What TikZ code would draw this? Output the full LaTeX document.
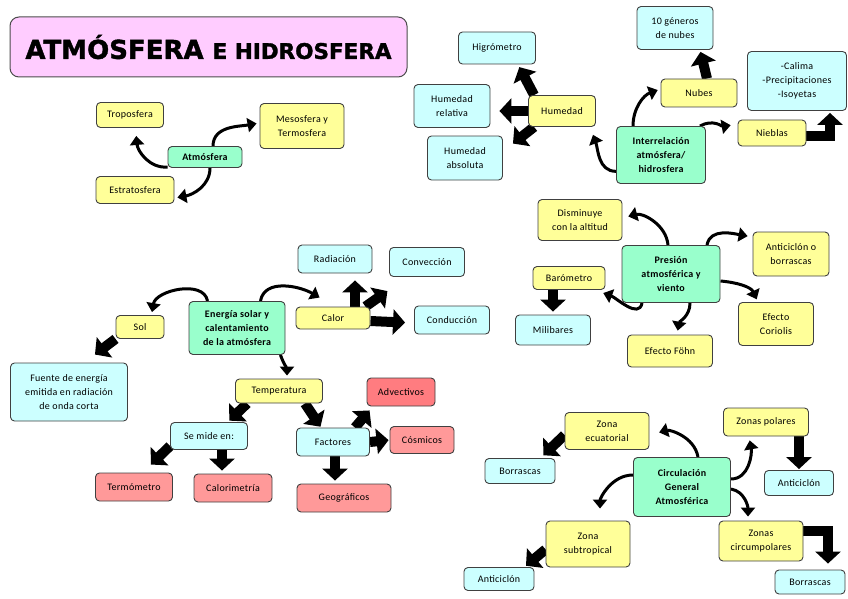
\documentclass[tikz,border=0pt]{standalone}
\usepackage{fontspec}
\setmainfont[LetterSpace=3]{Carlito}
\newfontfamily\titlefont[BoldFeatures={FakeBold=1.5}]{DejaVu Sans}
\usetikzlibrary{arrows.meta,backgrounds}
\definecolor{yel}{HTML}{FFFF99}\definecolor{cya}{HTML}{CCFFFF}\definecolor{grn}{HTML}{99FFCC}
\definecolor{rdl}{HTML}{FF9999}\definecolor{rdd}{HTML}{FF7C80}\definecolor{pnk}{HTML}{FFCCFF}

\begin{document}
\begin{tikzpicture}[x=1pt,y=-1pt,
  bx/.style={draw=black!75,line width=.9pt,rounded corners=4pt,align=center,inner sep=2pt,font=\fontsize{10}{14}\selectfont},
  ybox/.style={bx,fill=yel},cbox/.style={bx,fill=cya},rbox/.style={bx,fill=rdl},
  gbox/.style={bx,fill=grn,font=\fontsize{10}{14}\selectfont\bfseries},
  sz/.style 2 args={minimum width=#1pt,minimum height=#2pt},
  curv/.style={line width=3pt,-{Triangle[length=9pt,width=14pt]},shorten >=3pt},
  blk/.style={line width=10pt,-{Triangle[length=12pt,width=25pt]}}]
\useasboundingbox(0,0)rectangle(848,599);
\node[draw=black!70,line width=1pt,fill=pnk,rounded corners=9pt,sz={397}{60}](title)at(208.5,47){\titlefont\bfseries\fontsize{26}{30}\selectfont ATMÓSFERA {\fontsize{21.5}{24}\selectfont E HIDROSFERA}};
% atmosfera
\node[ybox,sz={67}{25}](tropo)at(130,115){Troposfera};\node[ybox,sz={84}{45}](meso)at(302,126){Mesosfera y\\Termosfera};
\node[gbox,sz={74}{21}](atm)at(205,157){Atmósfera};\node[ybox,sz={78}{27}](estr)at(135,190){Estratosfera};
% interrelacion
\node[cbox,sz={77}{32}](higro)at(497,48){Higrómetro};\node[cbox,sz={76}{43}](hrel)at(452,106){Humedad\\relativa};
\node[cbox,sz={75}{44}](habs)at(465,158){Humedad\\absoluta};\node[ybox,sz={67}{31}](hum)at(562,111){Humedad};
\node[gbox,sz={89}{57}](inter)at(661,155){Interrelación\\atmósfera/\\hidrosfera};\node[ybox,sz={76}{28}](nubes)at(699,93){Nubes};
\node[cbox,sz={76}{43}](gen)at(675,28){10 géneros\\de nubes};\node[cbox,sz={99}{59}](calima)at(797,81){-Calima\\-Precipitaciones\\-Isoyetas};
\node[ybox,sz={68}{26}](nieb)at(772,133){Nieblas};
% presion
\node[ybox,sz={84}{41}](dism)at(580,220){Disminuye\\con la altitud};\node[gbox,sz={98}{57}](pres)at(671,274){Presión\\atmosférica y\\viento};
\node[ybox,sz={76}{44}](antib)at(791,254){Anticiclón o\\borrascas};\node[ybox,sz={72}{23}](baro)at(569,278){Barómetro};
\node[cbox,sz={75}{30}](mili)at(553,330){Milibares};\node[ybox,sz={85}{32}](fohn)at(670,351){Efecto Föhn};
\node[ybox,sz={75}{43}](corio)at(776,324){Efecto\\Coriolis};
% energia
\node[cbox,sz={74}{28}](rad)at(335,259){Radiación};\node[cbox,sz={75}{29}](conv)at(427,262){Convección};
\node[gbox,sz={96}{53}](ener)at(237,328){Energía solar y\\calentamiento\\de la atmósfera};\node[ybox,sz={74}{22}](calor)at(333,318){Calor};
\node[cbox,sz={75}{28}](cond)at(452,320){Conducción};\node[ybox,sz={48}{23}](sol)at(140,327){Sol};
\node[cbox,sz={117}{58}](fuente)at(69,392){Fuente de energía\\emitida en radiación\\de onda corta};
\node[ybox,sz={87}{24}](temp)at(279,391){Temperatura};\node[cbox,sz={77}{27}](semide)at(209,436){Se mide en:};
\node[cbox,sz={73}{28}](fact)at(333,442){Factores};\node[bx,fill=rdd,sz={68}{28}](advec)at(401,392){Advectivos};
\node[rbox,sz={64}{27}](cosm)at(422,440){Cósmicos};\node[rbox,sz={94}{28}](geog)at(344,498){Geográficos};
\node[rbox,sz={77}{28}](termo)at(134,487){Termómetro};\node[rbox,sz={78}{28}](calorim)at(233,488){Calorimetría};
% circulacion
\node[ybox,sz={84}{37}](ecua)at(607,431){Zona\\ecuatorial};\node[cbox,sz={70}{25}](borr1)at(520,471){Borrascas};
\node[gbox,sz={97}{59}](circ)at(682,487){Circulación\\General\\Atmosférica};\node[ybox,sz={85}{28}](polar)at(766,422){Zonas polares};
\node[cbox,sz={69}{25}](anti2)at(799,483){Anticiclón};\node[ybox,sz={84}{46}](subt)at(588,544){Zona\\subtropical};
\node[cbox,sz={70}{23}](anti1)at(499,579){Anticiclón};\node[ybox,sz={84}{40}](circum)at(761,541){Zonas\\circumpolares};
\node[cbox,sz={70}{24}](borr2)at(810,582){Borrascas};
\begin{pgfonlayer}{background}
\draw[curv](atm.195)to[out=185,in=-85]([xshift=6pt,yshift=-5pt]tropo.south);\draw[curv]([xshift=8pt]atm.north)to[out=90,in=190]([yshift=3pt]meso.west);
\draw[curv]([xshift=5pt]atm.south)to[out=-90,in=10]([yshift=-8pt]estr.east);
\draw[blk,shorten >=3pt]([xshift=6pt]hum.north west)--([xshift=-18pt]higro.south east);\draw[blk,shorten >=9pt](hum.west)--(hum.west-|hrel.east);
\draw[blk]([xshift=6pt]hum.south west)--([xshift=10pt,yshift=-8pt]habs.north east);
\draw[curv](inter.200)to[out=180,in=-70]([xshift=-4pt,yshift=-5pt]hum.south east);\draw[curv]([xshift=-28pt]inter.north)to[out=90,in=200]([yshift=4pt]nubes.west);
\draw[curv,shorten >=7pt]([xshift=-6pt]inter.north east)to[out=30,in=190]([yshift=9pt]nieb.west);
\draw[blk,shorten >=2pt]([xshift=8pt]nubes.north)--([xshift=25pt]gen.south);\draw[blk,shorten >=2pt]([yshift=-3pt]nieb.east)-|([xshift=33pt]calima.south);
\draw[curv,shorten >=6pt]([xshift=-3pt]pres.north)to[out=95,in=15]([yshift=2pt]dism.east);\draw[curv,shorten >=5pt]([xshift=36pt]pres.north)to[out=80,in=170]([yshift=17pt]antib.west);
\draw[curv]([yshift=-7pt]pres.east)to[out=-5,in=115]([xshift=-18pt]corio.north);\draw[curv,shorten >=4pt]([xshift=19pt]pres.south)to[out=-90,in=80]([xshift=7pt]fohn.north);
\draw[curv]([xshift=-29pt]pres.south)to[out=-100,in=-20]([xshift=-5pt,yshift=-14pt]baro.east);\draw[blk,shorten >=3pt]([xshift=-16pt]baro.south)--(mili.north);
\draw[curv,shorten >=0pt]([xshift=19pt]ener.north west)to[out=100,in=80]([xshift=12pt,yshift=3pt]sol.north);
\draw[curv,shorten >=0pt]([xshift=-25pt]ener.north east)to[out=80,in=150]([xshift=24pt,yshift=9pt]calor.north west);
\draw[curv]([xshift=-5pt]ener.south east)to[out=-70,in=90]([xshift=8pt]temp.north);
\draw[blk](sol.south west)--([xshift=-33pt,yshift=8pt]fuente.north east);\draw[blk,shorten >=7pt]([xshift=22pt]calor.north)--([xshift=20pt]rad.south);
\draw[blk,shorten >=2pt]([xshift=-5pt]calor.north east)--([yshift=-13pt]conv.south west);\draw[blk,shorten >=9pt]([yshift=-3pt]calor.east)--([yshift=-3pt]cond.west);
\draw[blk,shorten >=2pt]([xshift=12pt]temp.south west)--([xshift=-20pt]semide.north east);\draw[blk,shorten >=1pt]([xshift=-18pt]temp.south east)--([xshift=25pt]fact.north west);
\draw[blk]([yshift=4pt]semide.south west)--([xshift=-22pt,yshift=8pt]termo.north east);\draw[blk,shorten >=3pt]([xshift=13pt]semide.south)--([xshift=-11pt]calorim.north);
\draw[blk]([xshift=-15pt]fact.north east)--([xshift=3pt,yshift=-4pt]advec.south west);\draw[blk,shorten >=1pt](fact.east)--(cosm.west);
\draw[blk,shorten >=3pt]([xshift=2pt]fact.south)--([xshift=-9pt]geog.north);
\draw[curv,shorten >=10pt]([xshift=16pt]circ.north)to[out=100,in=15]([yshift=-4pt]ecua.east);\draw[curv,shorten >=4pt]([yshift=8pt]circ.east)to[out=0,in=-80]([xshift=26pt]polar.south west);
\draw[curv,shorten >=4pt]([yshift=-2pt]circ.east)to[out=-10,in=90]([xshift=-13pt]circum.north);\draw[curv,shorten >=12pt]([yshift=12pt]circ.west)to[out=180,in=90]([xshift=12pt]subt.north);
\draw[blk,shorten >=4pt]([yshift=-4pt]ecua.west)--([xshift=-15pt]borr1.north east);\draw[blk,shorten >=1pt]([xshift=33pt]polar.south)--(anti2.north);
\draw[blk,shorten >=6pt]([yshift=10pt]circum.east)-|([xshift=18pt]borr2.north);\draw[blk,shorten >=2pt]([yshift=18pt]subt.south west)--([xshift=-10pt]anti1.north east);
\end{pgfonlayer}
\end{tikzpicture}
\end{document}
